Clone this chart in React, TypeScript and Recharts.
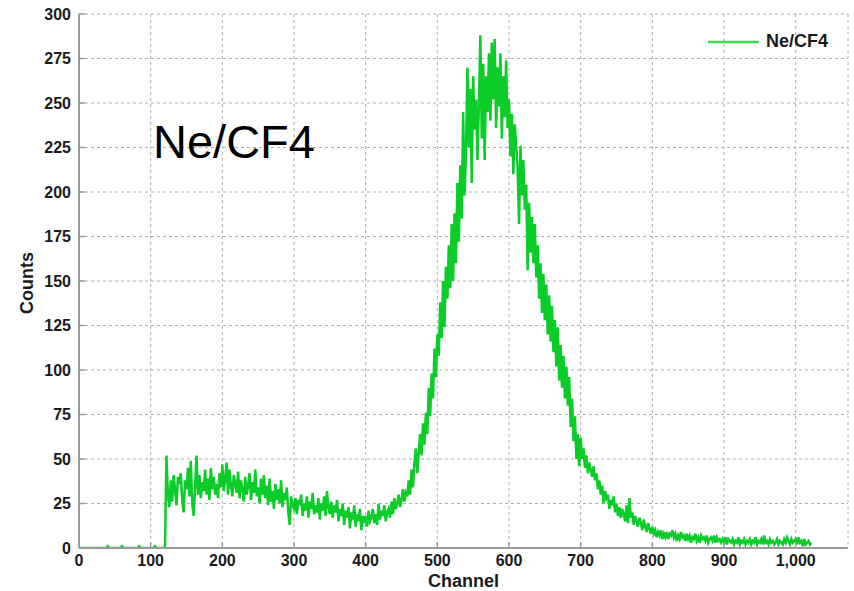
import React from "react";
import {
  LineChart,
  Line,
  XAxis,
  YAxis,
  CartesianGrid,
  Legend,
  Label,
} from "recharts";

// Histogram bin width (channels per sample shown)
const BIN = 2;

// Counts per bin (channels 0..1022, step 2)
const counts0: number[] = [
  0, 0, 0, 0, 0, 0, 0, 0, 0, 0, 0, 0, 0, 0, 0, 0, 0, 0, 0, 0, 1, 0, 0, 0, 0, 0, 0, 0, 0, 0,
  1, 0, 0, 0, 0, 0, 0, 0, 0, 0, 0, 0, 1, 0, 0, 0, 0, 0, 0, 0,
];
const counts100: number[] = [
  0, 0, 0, 1, 0, 0, 0, 0, 0, 0, 0,
  52, 30, 23, 38, 26, 41, 33, 24, 40, 36, 42, 27, 20, 38, 33, 45, 29, 49, 25, 18,
  35, 52, 30, 41, 28, 37, 32, 44, 30, 39, 27, 45, 33, 40, 30, 36, 28, 42, 34,
];
const counts200: number[] = [
  47, 32, 39, 48, 30, 44, 35, 29, 41, 36, 31, 43, 28, 38, 33, 26, 40, 30, 35, 42,
  27, 37, 31, 44, 29, 34, 25, 39, 30, 41, 28, 35, 24, 39, 26, 32, 22, 36, 27, 33,
  25, 38, 23, 31, 27, 34, 20, 13, 29, 24,
];
const counts300: number[] = [
  22, 28, 19, 27, 24, 30, 18, 25, 21, 29, 17, 26, 22, 31, 19, 24, 20, 28, 16, 25,
  21, 29, 18, 32, 23, 19, 26, 17, 24, 20, 27, 15, 22, 18, 25, 13, 21, 17, 23, 11,
  20, 16, 24, 12, 19, 15, 22, 10, 18, 14,
];
const counts400: number[] = [
  18, 12, 21, 15, 17, 22, 14, 19, 13, 25, 16, 21, 18, 24, 15, 20, 22, 17, 26, 19,
  28, 22, 25, 30, 23, 27, 33, 26, 31, 29, 38, 30, 44, 34, 48, 56, 42, 53, 64, 52,
  70, 58, 76, 64, 90, 74, 98, 84, 112, 96,
];
const counts500: number[] = [
  120, 108, 138, 118, 150, 124, 158, 140, 170, 146, 182, 150, 188, 160, 205, 172, 215, 185, 245, 198,
  222, 270, 225, 258, 205, 265, 235, 252, 218, 250, 288, 230, 272, 218, 265, 245, 278, 240, 284, 252,
  286, 236, 270, 248, 278, 230, 265, 242, 274, 236,
];
const counts600: number[] = [
  252, 220, 244, 210, 238, 226, 214, 182, 226, 198, 218, 190, 204, 156, 194, 166, 186, 160, 182, 152,
  170, 140, 160, 132, 154, 128, 148, 120, 142, 116, 136, 110, 128, 102, 124, 94, 114, 90, 108, 84,
  102, 80, 96, 68, 84, 60, 74, 50, 64, 46,
];
const counts700: number[] = [
  62, 50, 56, 45, 52, 42, 48, 44, 40, 46, 38, 42, 33, 38, 30, 35, 25, 32, 28, 30,
  22, 27, 24, 29, 20, 25, 18, 23, 17, 22, 19, 15, 24, 14, 28, 17, 20, 13, 18, 15,
  12, 17, 14, 10, 16, 12, 9, 14, 11, 8,
];
const counts800: number[] = [
  12, 8, 10, 6, 9, 7, 10, 5, 8, 6, 9, 5, 8, 7, 10, 6, 8, 4, 7, 5,
  9, 6, 7, 4, 8, 5, 7, 3, 6, 5, 8, 4, 6, 3, 7, 5, 6, 4, 7, 3,
  5, 6, 4, 7, 3, 6, 4, 5, 3, 5,
];
const counts900: number[] = [
  3, 6, 2, 5, 4, 3, 5, 2, 4, 3, 6, 2, 4, 3, 5, 2, 4, 3, 5, 2,
  4, 3, 6, 2, 4, 3, 5, 2, 7, 3, 4, 2, 5, 3, 4, 2, 3, 5, 2, 4,
  3, 2, 5, 3, 6, 4, 2, 5, 3, 4,
];
const counts1000: number[] = [5, 2, 6, 3, 4, 1, 5, 2, 3, 4, 2, 3];

const counts: number[] = [
  ...counts0,
  ...counts100,
  ...counts200,
  ...counts300,
  ...counts400,
  ...counts500,
  ...counts600,
  ...counts700,
  ...counts800,
  ...counts900,
  ...counts1000,
];

const xTicks: number[] = [0, 100, 200, 300, 400, 500, 600, 700, 800, 900, 1000];
const yTicks: number[] = [0, 25, 50, 75, 100, 125, 150, 175, 200, 225, 250, 275, 300];
const X_MAX = 1073;
const SERIES_NAME = "Ne/CF4";
const TITLE = "Ne/CF4";

const data = counts.map((v, i) => ({ channel: i * BIN, counts: v }));

const FONT = '"Liberation Sans", Arial, Helvetica, sans-serif';
const GREEN = "#0ccc2a";
const FRAME = "#9a9a9a";

const tickStyle = { fontFamily: FONT, fontSize: 16, fontWeight: 700, fill: "#1a1a1a" };
const hiddenTick = { fontSize: 0, fill: "transparent" };

const fmt = (v: number) => v.toLocaleString("en-US");

const LegendContent = () => (
  <div style={{ display: "flex", alignItems: "center", fontFamily: FONT }}>
    <svg width={54} height={10} style={{ display: "block" }}>
      <line x1={2} y1={5} x2={53} y2={5} stroke="#3fdc4f" strokeWidth={2.5} />
    </svg>
    <span style={{ fontSize: 18, fontWeight: 700, color: "#1a1a1a", marginLeft: 6 }}>{SERIES_NAME}</span>
  </div>
);

export default function App() {
  return (
    <div style={{ position: "absolute", left: 0, top: 0, width: 854, height: 591, background: "#fff" }}>
      <LineChart
        width={854}
        height={591}
        data={data}
        margin={{ top: 14, right: 6, bottom: 0, left: 0 }}
      >
        <CartesianGrid
          xAxisId="b"
          yAxisId="l"
          stroke="#b0b0b0"
          strokeDasharray="3 3"
          strokeWidth={1}
        />
        <XAxis
          xAxisId="b"
          type="number"
          dataKey="channel"
          domain={[0, X_MAX]}
          ticks={xTicks}
          tickFormatter={fmt}
          allowDataOverflow
          height={43}
          tickSize={-6}
          tickMargin={13}
          tickLine={{ stroke: FRAME, strokeWidth: 1.5 }}
          axisLine={{ stroke: FRAME, strokeWidth: 2 }}
          tick={tickStyle}
        >
          <Label
            content={(props: any) => {
              const vb = props.viewBox || {};
              return (
                <text
                  x={vb.x + vb.width / 2}
                  y={vb.y + 39}
                  textAnchor="middle"
                  style={{ fontFamily: FONT, fontSize: 18, fontWeight: 700, fill: "#1a1a1a" }}
                >
                  Channel
                </text>
              );
            }}
          />
        </XAxis>
        <XAxis
          xAxisId="t"
          orientation="top"
          type="number"
          dataKey="channel"
          domain={[0, X_MAX]}
          ticks={xTicks}
          allowDataOverflow
          height={0}
          tickSize={-6}
          tickLine={{ stroke: FRAME, strokeWidth: 1.5 }}
          axisLine={{ stroke: FRAME, strokeWidth: 2 }}
          tick={hiddenTick}
        />
        <YAxis
          yAxisId="l"
          type="number"
          domain={[0, 300]}
          ticks={yTicks}
          allowDataOverflow
          width={79}
          tickSize={-6}
          tickMargin={14}
          tickLine={{ stroke: FRAME, strokeWidth: 1.5 }}
          axisLine={{ stroke: FRAME, strokeWidth: 2 }}
          tick={tickStyle}
        >
          <Label
            content={(props: any) => {
              const vb = props.viewBox || {};
              const cx = 27;
              const cy = vb.y + vb.height / 2 + 2;
              return (
                <text
                  x={cx}
                  y={cy}
                  textAnchor="middle"
                  dominantBaseline="central"
                  transform={`rotate(-90, ${cx}, ${cy})`}
                  style={{ fontFamily: FONT, fontSize: 18, fontWeight: 700, fill: "#1a1a1a" }}
                >
                  Counts
                </text>
              );
            }}
          />
        </YAxis>
        <YAxis
          yAxisId="r"
          orientation="right"
          type="number"
          domain={[0, 300]}
          ticks={yTicks}
          allowDataOverflow
          width={0}
          tickSize={-6}
          tickLine={{ stroke: FRAME, strokeWidth: 1.5 }}
          axisLine={{ stroke: FRAME, strokeWidth: 2 }}
          tick={hiddenTick}
        />
        <Legend
          layout="horizontal"
          verticalAlign="middle"
          align="center"
          content={<LegendContent />}
          wrapperStyle={{ position: "absolute", left: 706, top: 31, width: 140, height: 22 }}
        />
        <Line
          xAxisId="b"
          yAxisId="l"
          type="linear"
          dataKey="counts"
          name={SERIES_NAME}
          stroke={GREEN}
          strokeWidth={2.5}
          dot={false}
          isAnimationActive={false}
        />
      </LineChart>
      <div
        style={{
          position: "absolute",
          left: 153,
          top: 114,
          fontFamily: FONT,
          fontSize: 47,
          lineHeight: "56px",
          color: "#000",
          whiteSpace: "nowrap",
        }}
      >
        {TITLE}
      </div>
    </div>
  );
}
